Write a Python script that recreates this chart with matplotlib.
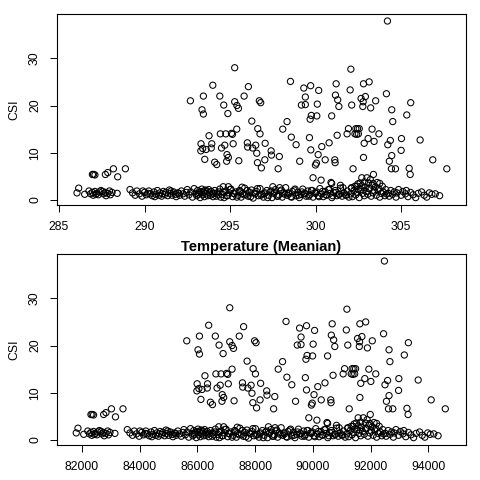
import matplotlib
matplotlib.use("Agg")
import matplotlib.pyplot as plt

# ---------------- data ----------------
# scattered high-CSI points
upper_temp = [292.68,293.44,293.99,293.36,293.44,294.40,294.63,294.87,295.27,295.27,
295.40,295.49,293.30,293.29,293.40,293.60,293.77,293.93,293.90,293.52,
294.10,294.22,294.43,294.75,294.50,294.69,295.08,295.14,295.39,295.18,
294.82,294.90,294.80,295.51,295.82,296.07,296.27,296.01,296.03,296.32,
296.50,296.62,296.75,296.56,296.60,296.83,297.03,297.05,296.71,296.79,
297.40,297.42,297.88,297.81,298.08,298.33,298.53,298.58,298.86,299.07,
299.31,299.40,299.17,299.40,299.71,300.18,300.10,299.75,299.68,300.07,
299.64,299.72,300.15,300.36,300.05,299.99,300.56,300.79,299.85,300.32,
300.94,301.20,301.16,301.29,301.36,301.26,301.12,301.14,300.94,301.45,
302.06,302.02,302.11,301.84,301.92,302.30,302.35,302.45,302.55,302.40,
302.50,302.19,302.47,302.80,303.13,302.66,302.78,302.91,302.76,303.22,
303.51,302.84,303.07,303.30,303.42,303.70,302.80,302.70,303.00,303.38,
304.14,304.20,304.45,304.51,304.22,304.37,304.45,304.31,304.43,304.67,
305.02,305.00,305.33,305.56,305.47,305.53,306.11,306.85,307.67,286.95,
287.02,287.10,287.71,287.85,288.18,288.43,288.88,300.90,302.60,302.85,
303.10,303.35,303.60,303.75,302.10,297.90,297.50,294.60,294.90,295.70,
303.20,302.40]

upper_meanian = [85630,86070,86390,86020,86070,86620,86750,86890,87120,87120,
87200,87250,85990,85980,86050,86160,86260,86350,86340,86120,
86450,86520,86640,86820,86680,86790,87010,87050,87200,87070,
86860,86910,86850,87270,87450,87600,87720,87560,87570,87750,
87860,87930,88010,87890,87920,88050,88170,88190,87980,88030,
88400,88410,88680,88640,88800,88950,89070,89100,89270,89400,
89540,89590,89460,89590,89780,90060,90010,89800,89760,89990,
89740,89780,90040,90170,89980,89950,90290,90420,89860,90140,
90510,90670,90640,90720,90760,90700,90620,90630,90510,90820,
91180,91160,91210,91050,91100,91330,91360,91420,91480,91390,
91450,91260,91430,91630,91830,91550,91620,91700,91610,91890,
92060,91660,91800,91940,92010,92180,91630,91570,91750,91990,
92450,92480,92640,92670,92500,92590,92640,92550,92620,92770,
92980,92970,93170,93310,93260,93300,93650,94100,94590,82310,
82350,82400,82750,82830,83020,83160,83420,90490,91510,91660,
91820,91970,92120,92210,91210,88690,88460,86740,86910,87380,
91880,91390]

upper_csi = [21.0,22.0,24.3,19.1,18.2,22.0,20.1,18.3,28.0,20.8,
20.0,19.4,11.9,10.4,10.9,10.7,13.6,11.9,11.0,8.6,
8.0,7.5,14.0,14.0,11.0,11.6,14.1,13.9,15.0,11.9,
9.6,9.0,8.2,8.3,22.0,24.0,16.7,12.1,11.2,11.0,
11.6,15.1,14.0,9.9,7.9,6.8,8.5,12.0,21.0,20.6,
10.4,9.5,9.2,6.6,15.0,16.6,25.1,13.3,11.7,8.2,
23.7,21.8,20.1,20.2,24.2,23.2,20.3,17.9,17.1,17.8,
13.2,10.6,9.6,11.3,7.8,7.4,8.5,12.1,4.7,4.2,
17.8,24.6,22.2,21.2,19.8,13.7,8.5,7.9,3.5,3.1,
27.7,23.3,20.1,14.0,15.1,14.0,15.1,15.1,15.1,13.9,
14.0,6.6,3.4,24.6,25.0,21.5,20.8,21.9,19.8,19.5,
21.0,12.0,13.0,15.0,12.4,14.0,9.0,4.7,4.7,5.4,
22.5,37.9,19.1,16.6,11.7,12.6,9.4,8.2,6.6,6.6,
13.0,10.5,18.0,20.6,6.7,5.4,12.7,8.5,6.6,5.4,
5.4,5.3,5.4,5.8,6.6,4.9,6.6,3.7,3.6,3.8,
3.6,3.5,3.7,3.5,2.5,2.6,2.8,2.8,2.8,2.7,
4.3,2.9]

# dense band of low-CSI points
band_temp = [
286.05,286.15,286.5,286.75,286.85,286.95,287.0,287.1,287.15,287.2,287.3,287.35,287.45,287.55,287.6,287.7,287.75,287.85,287.95,288.0,288.1,288.4,
289.15,289.3,289.45,289.55,289.7,289.85,289.9,290.0,290.1,290.2,290.25,290.35,290.45,290.55,290.6,290.65,290.75,290.85,290.9,291.0,
291.05,291.1,291.2,291.25,291.35,291.45,291.5,291.55,291.6,291.7,291.8,291.85,291.95,292.0,292.05,292.15,292.25,292.35,292.45,292.5,
292.6,292.7,292.8,292.9,293.0,293.05,293.1,293.15,293.2,293.25,293.3,293.35,293.4,293.45,293.5,293.5,293.55,293.6,293.65,293.7,
293.75,293.8,293.85,293.9,293.95,294.0,294.05,294.1,294.2,294.25,294.3,294.35,294.4,294.45,
294.55,294.65,294.75,294.85,294.95,
295.05,295.15,295.25,295.35,295.45,295.55,295.65,295.75,295.85,295.95,
296.05,296.15,296.25,296.35,296.45,296.55,296.65,296.75,296.85,296.95,
297.05,297.15,297.25,297.35,297.45,297.55,297.65,297.75,297.85,297.95,
298.05,298.15,298.25,298.35,298.45,298.55,298.65,298.75,298.85,298.95,
299.05,299.15,299.25,299.35,299.45,299.55,299.65,299.75,299.85,299.95,
300.05,300.15,300.25,300.35,300.45,300.55,300.65,300.75,300.85,300.95,
301.05,301.15,301.25,301.35,301.45,301.55,301.65,301.75,301.85,301.95,
294.6,294.8,295.0,295.2,295.4,295.6,295.8,296.0,296.2,296.4,296.6,296.8,297.0,297.2,297.4,297.6,297.8,298.0,298.2,
298.4,298.6,298.8,299.0,299.2,299.4,299.6,299.8,300.0,300.2,300.4,300.6,300.8,301.0,301.2,301.4,301.6,301.8,
302.05,302.15,302.25,302.35,302.45,302.55,302.65,302.75,302.85,302.95,303.05,303.15,303.25,303.35,303.45,303.55,303.65,303.75,303.85,303.95,304.05,304.15,
302.1,302.3,302.5,302.7,302.9,303.1,303.3,303.5,303.7,303.9,304.1,
304.25,304.3,304.4,304.5,304.6,304.7,304.75,304.85,305.0,305.1,305.25,305.3,305.4,305.55,305.7,305.85,306.0,306.2,306.35,306.5,306.65,306.8,307.0,307.25]

band_meanian = [
81800,81860,82060,82200,82260,82310,82340,82400,82430,82460,82520,82540,82600,82660,82690,82740,82770,82830,82890,82920,82970,83140,
83570,83660,83750,83810,83890,83980,84010,84070,84130,84190,84210,84270,84330,84390,84420,84450,84510,84560,84590,84650,
84680,84710,84770,84800,84860,84910,84940,84970,85000,85060,85120,85150,85210,85240,85260,85320,85380,85440,85500,85530,
85580,85640,85700,85760,85820,85840,85870,85900,85930,85960,85990,86020,86050,86080,86100,86100,86130,86160,86190,86220,
86250,86280,86300,86340,86360,86390,86420,86450,86510,86530,86560,86590,86620,86650,
86710,86760,86820,86880,86940,
86990,87050,87110,87170,87230,87290,87350,87410,87470,87530,
87590,87650,87710,87770,87830,87890,87950,88010,88070,88130,
88190,88250,88310,88370,88430,88490,88550,88600,88660,88720,
88780,88840,88900,88960,89020,89080,89140,89200,89260,89320,
89380,89440,89500,89560,89620,89680,89740,89800,89860,89920,
89980,90040,90100,90160,90220,90280,90340,90400,90460,90520,
90580,90640,90700,90760,90820,90880,90940,91000,91060,91120,
86740,86850,86960,87080,87200,87320,87440,87560,87680,87800,87920,88040,88160,88280,88400,88510,88640,88750,88870,
88990,89110,89230,89350,89470,89590,89710,89830,89950,90070,90190,90310,90430,90550,90670,90790,90910,91030,
91180,91240,91300,91360,91420,91480,91540,91600,91660,91720,91780,91850,91910,91970,92030,92090,92150,92210,92270,92330,92390,92450,
91210,91330,91450,91570,91690,91820,91940,92060,92180,92300,92420,
92510,92540,92610,92670,92730,92790,92820,92880,92970,93030,93120,93150,93220,93310,93400,93490,93580,93700,93790,93880,93980,94070,94190,94340]

band_csi = [
1.5,2.5,1.2,1.9,1.3,1.6,1.0,1.8,1.2,1.4,1.1,1.7,2.0,1.8,1.3,1.6,0.9,1.4,1.9,1.1,1.6,1.4,
2.2,1.5,1.0,1.9,1.3,0.8,1.9,1.6,1.1,1.4,1.9,1.3,0.9,1.7,0.7,1.2,2.0,1.0,1.5,0.8,
1.3,1.8,1.2,1.6,0.9,2.1,1.4,1.9,1.0,1.7,1.2,0.7,1.5,1.4,1.0,1.9,1.3,0.8,1.6,2.2,
1.1,1.7,0.6,2.4,1.4,0.9,2.0,1.2,1.5,0.5,1.8,2.3,1.1,1.6,0.7,1.9,2.1,1.3,1.9,0.9,
2.2,1.5,1.0,1.8,1.3,0.7,1.4,2.0,0.8,1.5,1.1,1.7,2.3,0.6,
1.2,0.5,1.9,0.9,1.5,
2.3,0.7,1.3,1.7,1.0,2.0,0.6,1.4,2.5,1.1,
0.8,1.6,2.1,0.4,1.3,1.8,0.9,2.4,1.2,0.6,
1.5,2.0,1.0,1.7,0.5,1.4,2.2,0.8,1.1,1.9,
0.6,1.5,2.6,1.0,1.3,0.7,1.8,2.1,0.9,1.6,
0.5,1.2,2.3,1.4,0.8,1.9,1.1,2.0,0.6,1.5,
1.7,0.9,2.4,1.3,0.7,1.8,1.0,2.2,1.4,0.5,
1.6,2.0,0.9,1.2,2.5,0.8,1.5,1.1,1.9,0.6,
1.7,0.9,2.2,1.4,0.6,1.8,1.1,2.0,0.7,1.5,2.4,1.0,1.3,0.5,1.9,1.6,0.8,2.1,1.2,
1.5,0.6,2.3,1.0,1.7,1.3,0.8,2.0,1.4,0.7,1.8,1.1,2.2,0.9,1.6,1.2,2.6,1.0,
1.3,0.7,2.0,1.1,1.6,0.5,2.2,1.4,0.9,1.8,1.2,2.4,0.8,1.5,1.9,1.0,2.1,0.6,1.4,1.7,0.9,1.3,
2.6,2.9,2.3,3.0,2.7,2.5,3.1,2.8,2.4,2.9,2.2,
1.4,0.8,2.0,1.2,1.7,0.6,1.5,2.2,1.0,1.8,1.3,2.0,0.7,1.6,1.1,0.5,1.4,1.7,1.0,0.6,1.5,1.2,1.3,0.9]

temp_ticks = [285, 290, 295, 300, 305]
meanian_ticks = [82000, 84000, 86000, 88000, 90000, 92000, 94000]
csi_ticks = [0, 10, 20, 30]

# ---------------- plotting ----------------
plt.rcParams['font.family'] = ['Liberation Sans', 'DejaVu Sans']

fig = plt.figure(figsize=(4.8, 4.8), dpi=100)
ax1 = fig.add_axes([0.1194, 0.573, 0.851, 0.397])
ax2 = fig.add_axes([0.1194, 0.0729, 0.851, 0.3971])

temp_all = upper_temp + band_temp
mean_all = upper_meanian + band_meanian
csi_all = upper_csi + band_csi

mk = dict(s=20, facecolors='none', edgecolors='black', linewidths=0.75)
ax1.scatter(temp_all, csi_all, **mk)
ax2.scatter(mean_all, csi_all, **mk)

ax1.set_xlim(284.9, 308.78)
ax2.set_xlim(81144, 95300)
for ax in (ax1, ax2):
    ax.set_ylim(-1.06, 39.3)
    ax.set_yticks(csi_ticks)
    ax.set_yticklabels([str(t) for t in csi_ticks], rotation=90, va='center')
    ax.set_ylabel('CSI', fontsize=8.8, labelpad=6)
    ax.tick_params(direction='out', length=5.2, width=0.7, labelsize=8.8, pad=6.5)
    for sp in ax.spines.values():
        sp.set_linewidth(0.8)

ax1.set_xticks(temp_ticks)
ax1.set_xticklabels([str(t) for t in temp_ticks])
ax2.set_xticks(meanian_ticks)
ax2.set_xticklabels([str(t) for t in meanian_ticks])
ax2.set_title('Temperature (Meanian)', fontsize=10.5, fontweight='bold', pad=1.3)

fig.savefig('out.png', dpi=100)
